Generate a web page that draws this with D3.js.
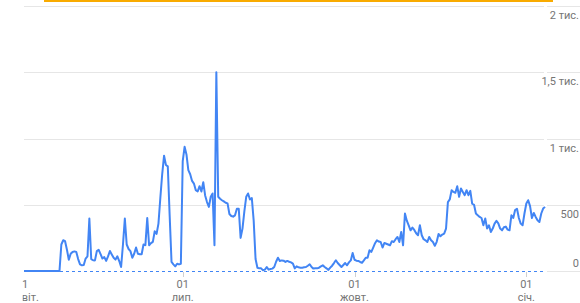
<!DOCTYPE html>
<html>
<head>
<meta charset="utf-8">
<script src="https://cdn.jsdelivr.net/npm/d3@7"></script>
<style>
  body { margin: 0; background: #fff; }
  svg { display: block; font-family: Roboto, "Noto Sans", sans-serif; }
</style>
</head>
<body>
<div id="chart"></div>
<script>
// daily values, first day below
const startDay = "2023-04-07";
const views = [
  0, 0, 0, 0, 0, 0, 0, 0, 0, 0, 0, 0, 0, 0, 0, 0, 0, 0, 0, 0,
  200, 232, 225, 160, 85, 130, 144, 148, 144, 90,
  50, 43, 45, 94, 111, 396, 90, 81, 80, 150,
  160, 128, 94, 105, 76, 110, 151, 125, 100, 86,
  111, 75, 30, 200, 396, 200, 166, 150, 100, 130,
  177, 130, 126, 126, 200, 195, 400, 194, 210, 220,
  300, 280, 358, 550, 730, 870, 800, 790, 420, 68,
  50, 35, 55, 50, 55, 830, 937, 880, 761, 730,
  680, 660, 610, 600, 640, 600, 670, 570, 520, 484,
  560, 585, 194, 1500, 560, 545, 534, 525, 515, 510,
  430, 415, 410, 420, 470, 470, 250, 320, 450, 560,
  585, 540, 550, 380, 90, 25, 20, 20, 5, 10,
  30, 10, 15, 18, 30, 70, 100, 76, 80, 78,
  68, 76, 70, 65, 56, 20, 35, 28, 25, 25,
  28, 30, 40, 51, 30, 18, 20, 20, 25, 35,
  43, 30, 20, 8, 25, 40, 60, 81, 60, 45,
  30, 45, 60, 43, 65, 80, 136, 85, 78, 76,
  68, 62, 80, 100, 100, 156, 144, 177, 210, 232,
  222, 219, 177, 212, 206, 200, 194, 225, 219, 240,
  257, 219, 295, 194, 434, 380, 345, 307, 328, 310,
  285, 270, 345, 270, 240, 232, 219, 257, 232, 219,
  190, 220, 280, 262, 275, 282, 320, 520, 540, 610,
  597, 590, 640, 560, 622, 597, 572, 610, 572, 605,
  509, 500, 434, 420, 408, 400, 345, 396, 320, 345,
  295, 320, 358, 378, 360, 320, 307, 330, 335, 312,
  307, 420, 400, 460, 470, 400, 358, 345, 434, 509,
  534, 490, 400, 438, 408, 383, 370, 434, 471, 484
];

const tickDays = ["2023-04-01", "2023-07-01", "2023-10-01", "2024-01-01"];
const tickDayLabels = ["01", "01", "01", "01"];
const tickMonthLabels = ["квіт.", "лип.", "жовт.", "січ."];

const yTicks = [0, 500, 1000, 1500, 2000];
const yTickLabels = ["0", "500", "1 тис.", "1,5 тис.", "2 тис."];

const width = 580, height = 303;
const plotLeft = 24, plotRight = 544, plotTop = 6, plotBottom = 271;

const parse = d3.utcParse("%Y-%m-%d");
const start = parse(startDay);
const data = views.map((v, i) => ({ date: d3.utcDay.offset(start, i), value: v }));

const x = d3.scaleUtc()
  .domain([data[0].date, data[data.length - 1].date])
  .range([plotLeft, plotRight + 1]);

const y = d3.scaleLinear()
  .domain([0, 2000])
  .range([plotBottom, plotTop]);

const svg = d3.select("#chart").append("svg")
  .attr("width", width)
  .attr("height", height);

svg.append("defs").append("clipPath")
  .attr("id", "labelclip")
  .append("rect")
  .attr("x", plotLeft - 1.5).attr("y", 0)
  .attr("width", width).attr("height", height);

// orange bar on top
svg.append("rect")
  .attr("x", 44).attr("y", 0)
  .attr("width", 509).attr("height", 2)
  .attr("fill", "#f9ab00");

// gridlines
const grid = svg.append("g");
grid.selectAll("line.g1")
  .data(yTicks.filter(d => d > 0))
  .join("line")
  .attr("class", "g1")
  .attr("x1", plotLeft).attr("x2", plotRight)
  .attr("y1", d => Math.round(y(d)) + 0.5)
  .attr("y2", d => Math.round(y(d)) + 0.5)
  .attr("stroke", "#e6e6e6");
grid.selectAll("line.g2")
  .data(yTicks)
  .join("line")
  .attr("class", "g2")
  .attr("x1", plotRight + 3).attr("x2", width)
  .attr("y1", d => Math.round(y(d)) + 0.5)
  .attr("y2", d => Math.round(y(d)) + 0.5)
  .attr("stroke", "#e6e6e6");

// y labels
svg.append("g")
  .attr("font-size", 11)
  .attr("fill", "#757575")
  .attr("text-anchor", "end")
  .selectAll("text")
  .data(yTicks)
  .join("text")
  .attr("x", 579)
  .attr("y", d => d === 0 ? y(d) - 4 : y(d) + 13)
  .text((d, i) => yTickLabels[i]);

// dashed baseline
svg.append("line")
  .attr("x1", plotLeft).attr("x2", plotRight)
  .attr("y1", Math.round(y(0)) + 0.5)
  .attr("y2", Math.round(y(0)) + 0.5)
  .attr("stroke", "#4285f4")
  .attr("stroke-width", 1)
  .attr("stroke-dasharray", "3,3");

// x ticks + labels
const xt = svg.append("g")
  .attr("font-size", 11)
  .attr("fill", "#757575");

tickDays.forEach((s, i) => {
  const px = x(parse(s));
  const inside = px >= plotLeft;
  if (inside) {
    xt.append("line")
      .attr("x1", Math.round(px) + 0.5).attr("x2", Math.round(px) + 0.5)
      .attr("y1", 272).attr("y2", 277)
      .attr("stroke", "#d0d0d0");
  }
  const t = xt.append("text")
    .attr("clip-path", "url(#labelclip)")
    .attr("text-anchor", inside ? "middle" : "start");
  const tx = inside ? px : px + 3;
  t.append("tspan").attr("x", tx).attr("y", 288).text(tickDayLabels[i]);
  t.append("tspan").attr("x", tx).attr("y", 301).text(tickMonthLabels[i]);
});

// series line
const line = d3.line()
  .x(d => x(d.date))
  .y(d => y(d.value));

svg.append("path")
  .datum(data)
  .attr("fill", "none")
  .attr("stroke", "#4285f4")
  .attr("stroke-width", 2)
  .attr("stroke-linejoin", "round")
  .attr("d", line);
</script>
</body>
</html>
